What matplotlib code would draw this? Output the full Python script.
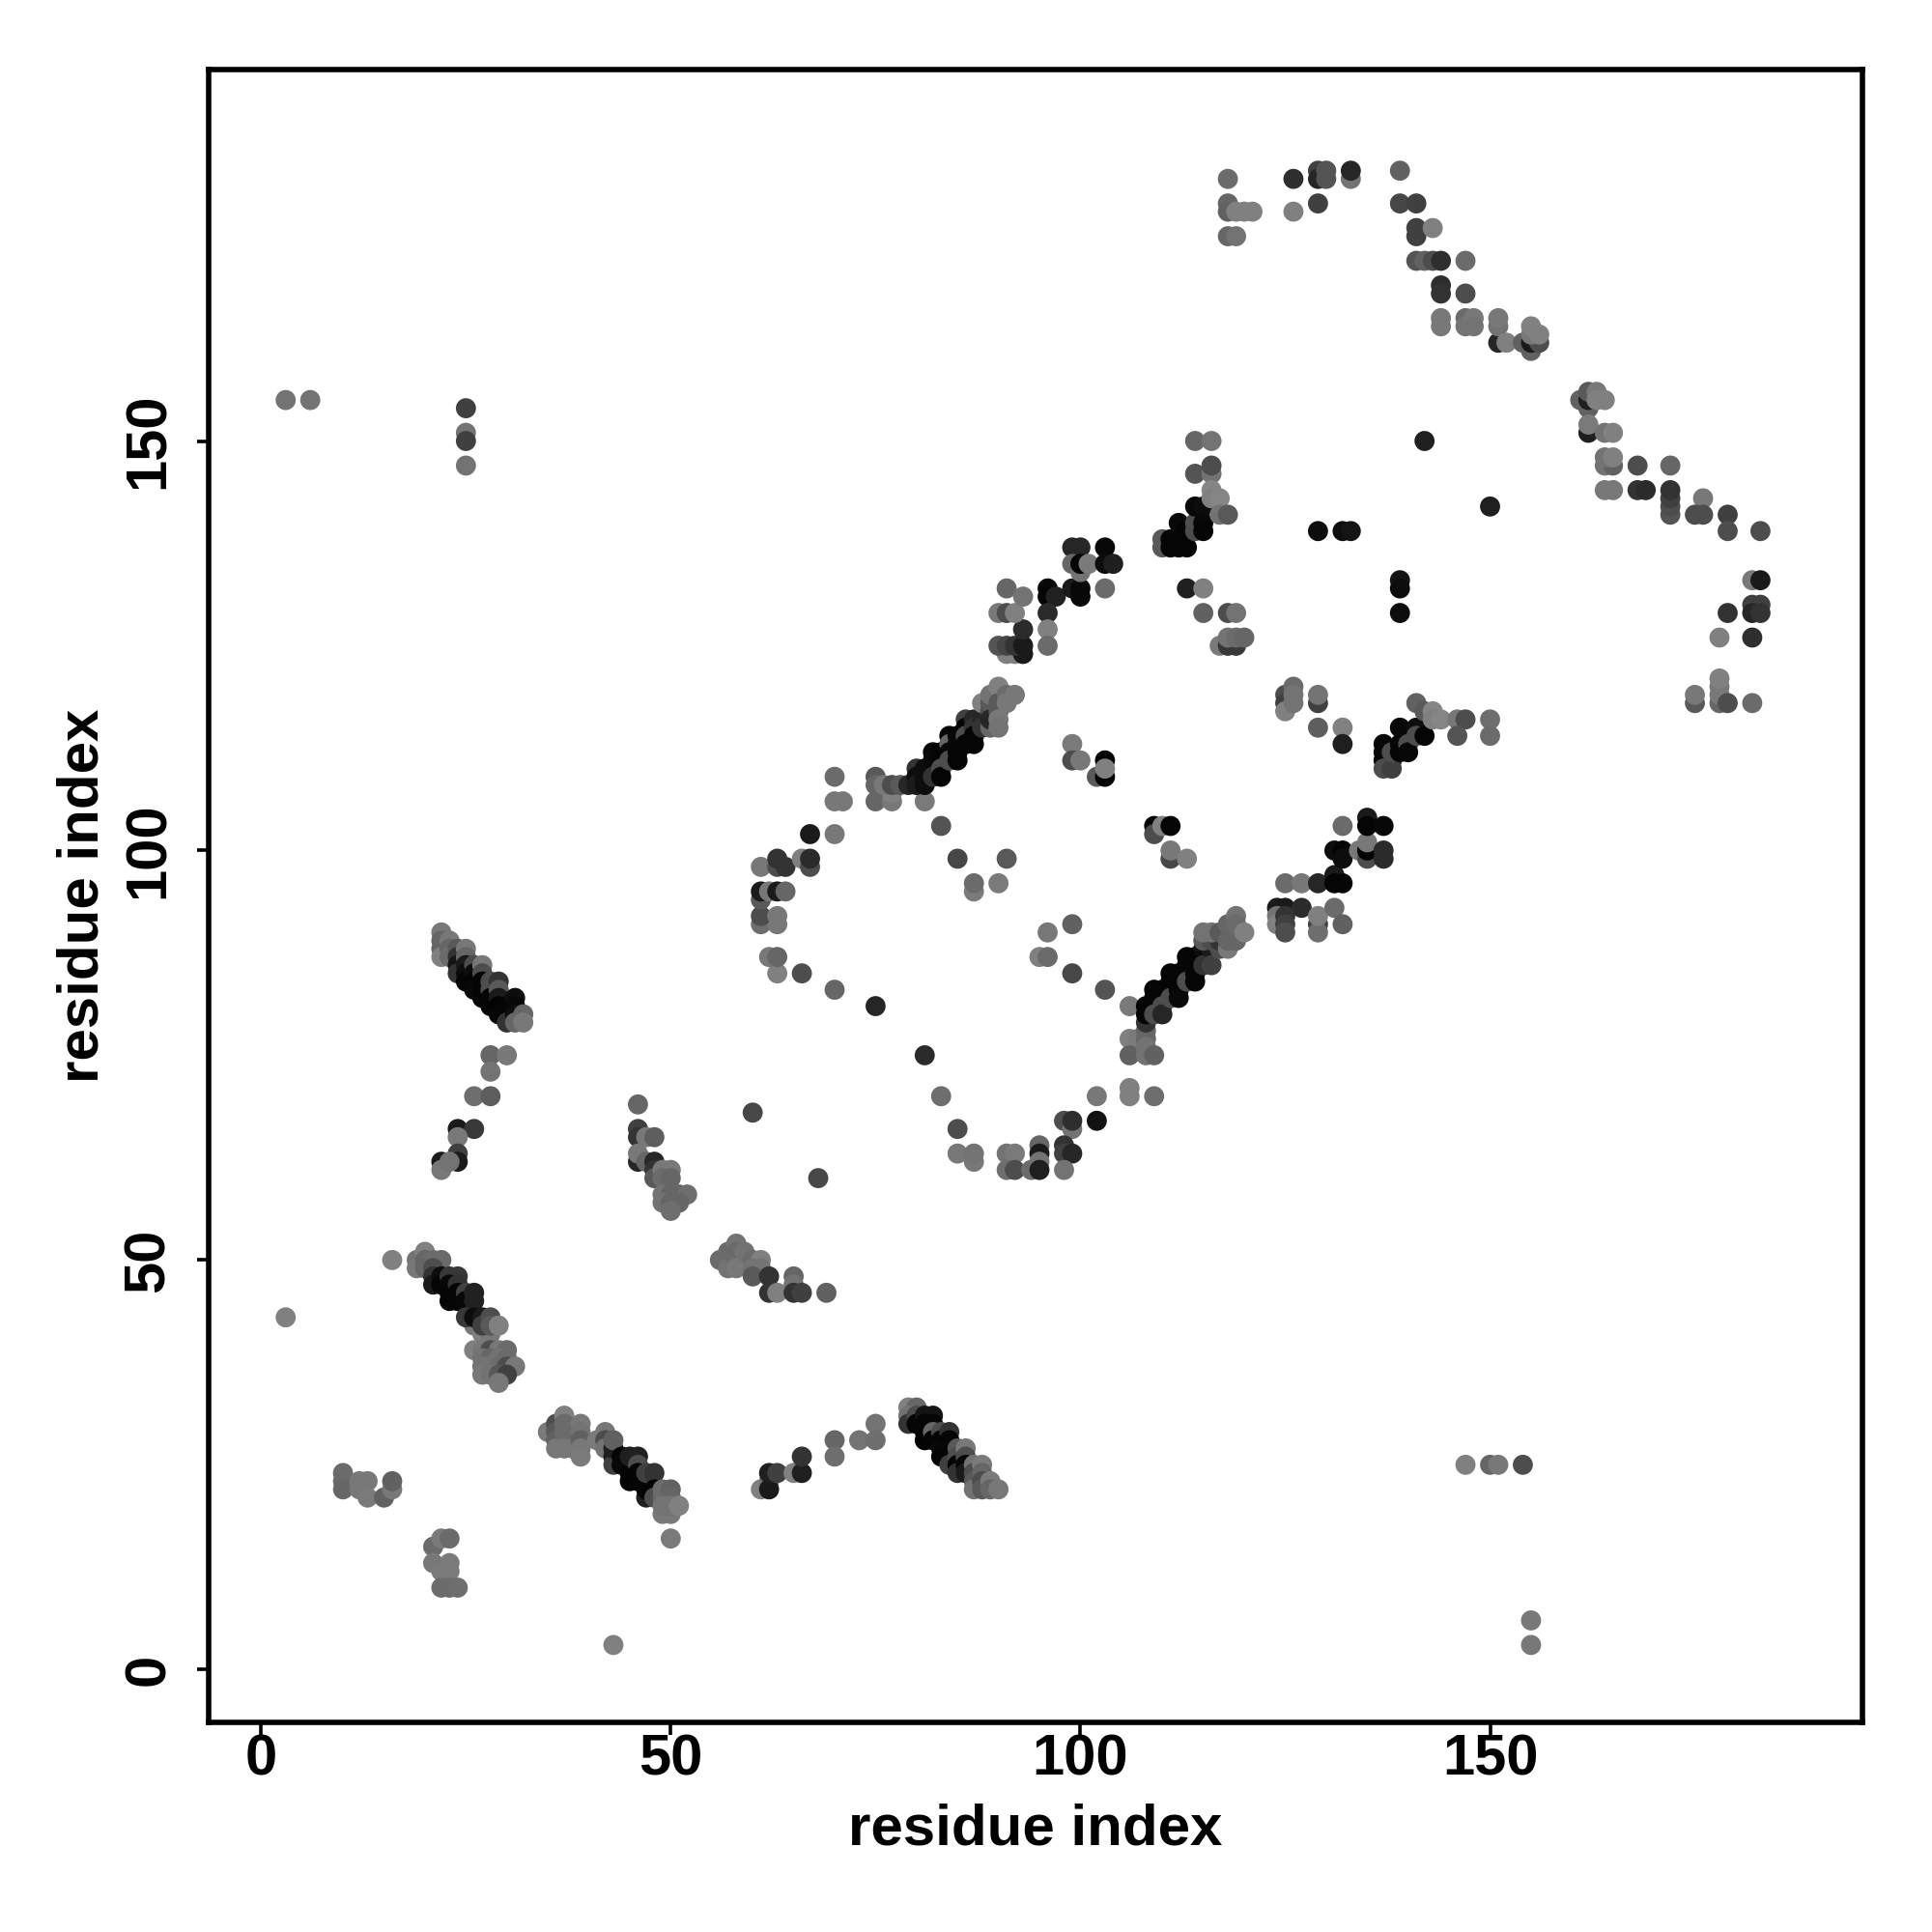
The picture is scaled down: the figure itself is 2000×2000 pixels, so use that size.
import matplotlib
matplotlib.use("Agg")
import matplotlib.pyplot as plt

# (residue x, residue y, grey level of the contact)
isolated = [
    (3, 155, .45), (6, 155, .45), (25, 154, .25), (25, 151, .45), (25, 150, .25), (25, 147, .45),
    (3, 43, .5), (43, 3, .5), (155, 6, .47), (155, 3, .47),
    (147, 25, .5), (150, 25, .4), (151, 25, .47), (154, 25, .3),
    (60, 68, .28), (68, 60, .28), (69, 46, .38),
    (142, 150, .12), (150, 142, .12),
    (129, 139, .05), (132, 139, .05), (133, 139, .08),
    (139, 133, .08), (139, 132, .05), (139, 129, .05),
]

low_left = [
    (10, 24, .42), (10, 23, .42), (10, 22, .4), (12, 23, .47), (13, 23, .47), (12, 22, .47),
    (13, 21, .48), (15, 21, .38), (16, 22, .47), (16, 23, .38),
    (21, 15, .42), (22, 16, .48), (23, 16, .42), (21, 13, .47), (23, 13, .48), (22, 12, .48),
    (23, 12, .48), (22, 10, .42), (23, 10, .42), (24, 10, .43),
]

strand_16_50 = [
    (16, 50, .5), (19, 50, .45), (19, 49, .47), (20, 51, .5), (20, 50, .4), (21, 50, .42), (22, 50, .42),
    (20, 49, .4), (21, 49, .3), (21, 48, .2), (21, 47, .1), (22, 48, .05), (22, 47, .02), (23, 48, .22),
    (24, 48, .22), (23, 47, .03), (23, 46, .02), (24, 47, .2), (24, 46, .02), (23, 45, .02),
    (24, 45, .02), (25, 46, .25), (25, 45, .03), (26, 46, .13), (26, 45, .13),
    (26, 42, .47), (27, 41, .5), (28, 41, .47), (25, 43, .22), (26, 43, .05), (27, 43, .1), (27, 42, .25),
    (28, 43, .3), (28, 42, .35), (29, 42, .5),
    (26, 39, .5), (27, 39, .47), (28, 39, .3), (29, 39, .47), (30, 39, .42), (27, 38, .45), (28, 38, .4),
    (29, 38, .45), (30, 38, .42), (27, 37, .45), (28, 37, .45), (29, 37, .42), (30, 37, .3), (31, 37, .47),
    (27, 36, .47), (28, 36, .45), (29, 36, .35), (30, 36, .25), (29, 35, .47),
]

strand_35_51 = [
    (35, 29, .48), (36, 30, .3), (36, 29, .35), (36, 28, .38), (36, 27, .47), (37, 31, .5), (37, 30, .42),
    (37, 29, .42), (37, 27, .47), (38, 29, .42), (38, 27, .47), (39, 30, .47), (39, 29, .45),
    (39, 28, .38), (39, 27, .47), (39, 26, .48), (41, 28, .48), (42, 29, .47), (42, 28, .3), (42, 27, .45),
    (43, 26, .1), (43, 25, .25), (43, 27, .12), (43, 28, .38), (44, 26, .02), (44, 25, .03), (45, 24, .02),
    (45, 23, .01), (45, 26, .12), (46, 26, .13), (46, 25, .3), (46, 24, .02), (46, 23, .02), (47, 23, .02),
    (47, 21, .12), (47, 22, .02), (47, 24, .25), (48, 24, .2), (48, 22, .02), (48, 21, .3),
    (49, 21, .4), (49, 22, .42), (49, 19, .47), (50, 22, .38), (50, 21, .4), (50, 19, .47), (49, 20, .45),
    (50, 20, .45), (51, 20, .5), (50, 16, .48),
]

strand_60_66 = [
    (56, 50, .42), (57, 51, .42), (57, 50, .42), (57, 49, .45), (58, 52, .45), (58, 51, .42), (58, 50, .42),
    (58, 49, .47), (59, 51, .45), (60, 50, .42), (61, 50, .5), (60, 49, .45), (61, 49, .45), (60, 48, .35),
    (62, 48, .2), (62, 46, .2), (63, 46, .5), (65, 48, .4), (65, 47, .45), (65, 46, .2), (66, 46, .25),
]

strand_62_75 = [
    (61, 22, .5), (62, 23, .45), (62, 22, .1), (62, 24, .12), (63, 24, .25), (65, 24, .5), (66, 24, .12),
    (66, 26, .2), (70, 28, .4), (70, 26, .43), (73, 28, .45), (75, 30, .45), (75, 28, .43),
]

strand_79_90 = [
    (79, 32, .5), (80, 32, .4), (79, 31, .45), (79, 30, .2), (80, 31, .3), (80, 30, .02), (81, 31, .08),
    (82, 31, .08), (81, 30, .02), (81, 29, .02), (81, 28, .01), (82, 30, .02), (82, 29, .4), (82, 28, .02),
    (83, 29, .3), (83, 28, .02), (83, 27, .03), (83, 26, .02), (84, 29, .2), (84, 28, .02), (84, 27, .02),
    (84, 26, .02), (84, 25, .25), (85, 27, .35), (85, 26, .3), (85, 25, .02), (85, 24, .2), (86, 27, .47),
    (86, 26, .3), (86, 25, .03), (86, 24, .1), (87, 25, .45), (87, 24, .3), (87, 23, .35), (87, 22, .45),
    (88, 25, .48), (88, 24, .4), (88, 23, .3), (88, 22, .35), (89, 23, .48), (89, 22, .4), (90, 22, .47),
]

strand_22_32 = [
    (22, 90, .47), (22, 89, .4), (22, 88, .4), (22, 87, .5), (23, 89, .47), (23, 88, .4), (23, 87, .42),
    (24, 88, .35), (24, 87, .2), (24, 86, .08), (24, 85, .2), (25, 88, .47), (25, 87, .4), (25, 86, .1),
    (25, 85, .05), (25, 84, .02), (26, 86, .3), (26, 85, .05), (26, 84, .02), (26, 83, .03), (27, 86, .47),
    (27, 85, .3), (27, 84, .02), (27, 83, .02), (27, 82, .02), (28, 84, .3), (28, 83, .3), (28, 82, .02),
    (28, 81, .02), (29, 84, .2), (29, 83, .35), (29, 82, .1), (29, 81, .01), (29, 80, .02), (30, 81, .02),
    (30, 80, .02), (30, 79, .2), (31, 82, .05), (31, 81, .03), (31, 80, .05), (31, 79, .4), (32, 80, .4),
    (32, 79, .47),
]

arm_22_30 = [
    (28, 75, .4), (30, 75, .47), (28, 73, .45), (26, 70, .43), (28, 70, .37),
    (24, 66, .1), (26, 66, .22), (24, 65, .47), (24, 63, .25), (24, 62, .1), (22, 62, .1),
    (22, 61, .47), (23, 62, .45),
]

strand_46_52 = [
    (46, 69, .4), (46, 66, .25), (46, 65, .2), (47, 65, .47), (48, 65, .37), (46, 62, .15), (46, 63, .47),
    (47, 62, .4), (48, 62, .15), (48, 61, .2), (48, 60, .35), (49, 61, .47), (50, 61, .47), (49, 60, .42),
    (50, 60, .4), (49, 58, .45), (50, 58, .4), (51, 58, .4), (52, 58, .43), (49, 57, .45), (50, 57, .4),
    (51, 57, .4), (50, 56, .43),
]

bottom_arc = [
    (75, 81, .15), (70, 83, .4), (66, 85, .3), (63, 85, .5), (62, 87, .47), (63, 87, .4),
    (61, 91, .43), (63, 91, .47), (61, 92, .3), (63, 92, .47), (61, 94, .35), (61, 95, .1), (62, 95, .47),
    (63, 95, .1), (64, 95, .4), (61, 98, .47), (63, 98, .3), (64, 98, .2), (63, 99, .2),
    (66, 99, .5), (67, 98, .3), (67, 99, .17), (67, 102, .1), (70, 102, .47),
    (81, 75, .17), (83, 70, .43), (85, 66, .3), (85, 63, .47), (87, 62, .47), (87, 63, .45),
    (91, 63, .45), (92, 63, .48), (91, 61, .43), (92, 61, .3), (94, 61, .42), (95, 64, .4), (95, 63, .1),
    (95, 62, .45), (95, 61, .12), (98, 67, .3), (99, 66, .45), (99, 67, .18), (98, 64, .2), (98, 63, .25),
    (99, 63, .15), (98, 61, .45), (102, 67, .07), (102, 70, .47), (106, 71, .5), (106, 70, .5), (109, 70, .43),
]

strand_70_92 = [
    (70, 109, .42), (70, 106, .47), (71, 106, .47), (75, 109, .35), (75, 108, .4), (75, 106, .4),
    (77, 106, .47), (77, 107, .5), (76, 108, .47), (77, 108, .3), (78, 108, .35), (81, 106, .48), (79, 108, .15),
    (80, 110, .2), (80, 109, .05), (80, 108, .1), (81, 110, .05), (81, 109, .05), (81, 108, .05), (82, 112, .03),
    (82, 111, .03), (82, 109, .2), (83, 112, .02), (83, 111, .02), (83, 110, .3), (83, 109, .02), (84, 114, .03),
    (84, 113, .4), (84, 112, .03), (84, 111, .3), (85, 114, .03), (85, 113, .03), (85, 112, .02), (85, 111, .02),
    (86, 116, .25), (86, 115, .02), (86, 114, .3), (86, 113, .02), (87, 116, .15), (87, 115, .2), (87, 114, .02),
    (87, 113, .02), (88, 116, .15), (88, 115, .2), (88, 118, .5), (89, 117, .3), (89, 118, .35), (89, 119, .45),
    (89, 115, .4), (89, 116, .15), (90, 120, .5), (90, 118, .35), (90, 117, .35), (90, 116, .47), (90, 115, .45),
    (91, 119, .42), (91, 118, .47), (92, 119, .47),
]

strand_90_104 = [
    (91, 124, .5), (92, 124, .5), (93, 124, .1), (90, 125, .33), (91, 125, .27), (92, 125, .2), (93, 125, .1),
    (93, 127, .17), (90, 129, .47), (91, 129, .3), (92, 129, .5), (91, 132, .4), (93, 131, .45),
    (96, 132, .03), (96, 131, .02), (97, 131, .13), (96, 129, .17), (96, 127, .5), (96, 125, .42),
    (99, 132, .1), (100, 132, .03), (100, 131, .03), (99, 137, .15), (100, 137, .15), (99, 135, .4),
    (100, 134, .45), (100, 135, .02), (101, 135, .48), (103, 137, .03), (103, 135, .05), (104, 135, .12),
    (103, 132, .42),
]

inner_scatter = [
    (99, 113, .48), (99, 111, .3), (100, 111, .47), (103, 111, .02), (102, 109, .35), (103, 109, .02),
    (103, 110, .5), (83, 103, .33), (85, 99, .28), (91, 99, .35), (87, 95, .48), (87, 96, .42), (90, 96, .48),
    (99, 91, .38), (96, 90, .47), (95, 87, .5), (96, 87, .42), (99, 85, .28), (103, 83, .33), (106, 81, .48),
    (109, 103, .02), (109, 102, .3), (110, 103, .5), (111, 103, .02), (111, 99, .28), (111, 100, .47), (113, 99, .5),
    (113, 132, .12), (115, 132, .5), (115, 129, .38), (118, 129, .3), (119, 129, .45),
    (117, 125, .48), (118, 125, .22), (119, 125, .22), (118, 126, .45), (119, 126, .42), (120, 126, .4),
]

strand_106_120 = [
    (106, 77, .5), (107, 77, .48), (108, 77, .4), (108, 78, .4), (106, 75, .38), (108, 76, .45), (108, 75, .45),
    (109, 75, .38), (108, 79, .2), (108, 81, .02), (108, 80, .02), (109, 83, .02), (109, 82, .02), (109, 81, .02),
    (109, 80, .3), (110, 83, .02), (110, 81, .3), (110, 80, .15), (111, 85, .02), (111, 84, .02), (111, 83, .02),
    (111, 82, .3), (112, 85, .02), (112, 83, .02), (112, 82, .03), (113, 87, .02), (113, 86, .02), (113, 85, .02),
    (113, 84, .3), (114, 87, .02), (114, 85, .02), (114, 84, .02), (115, 88, .05), (115, 86, .2), (116, 88, .1),
    (116, 86, .25), (115, 89, .35), (116, 89, .3), (117, 88, .3), (117, 89, .2), (115, 90, .45), (116, 90, .45),
    (117, 90, .35), (118, 88, .47), (118, 89, .4), (119, 89, .4), (118, 91, .4), (119, 92, .45), (119, 91, .42),
    (120, 90, .5),
]

strand_124_137 = [
    (124, 93, .1), (125, 93, .1), (127, 93, .17), (124, 92, .45), (124, 91, .5), (125, 92, .2), (125, 91, .25),
    (125, 90, .3), (129, 91, .25), (129, 90, .43), (129, 92, .5), (131, 93, .42), (132, 91, .38),
    (125, 96, .42), (127, 96, .47), (129, 96, .15), (131, 97, .1), (131, 96, .02), (132, 96, .02),
    (131, 100, .05), (132, 100, .02), (132, 99, .05), (132, 103, .42),
    (134, 100, .47), (135, 99, .3), (135, 100, .02), (135, 101, .47), (135, 104, .1), (135, 103, .02),
    (137, 103, .03), (137, 100, .17), (137, 99, .17),
]

strand_110_118 = [
    (110, 138, .35), (110, 137, .35), (111, 138, .02), (111, 137, .02), (112, 140, .03), (112, 137, .02),
    (113, 139, .02), (113, 137, .02), (114, 140, .3), (114, 139, .3), (114, 142, .03), (115, 142, .05), (115, 140, .03),
    (115, 139, .02), (114, 146, .33), (114, 150, .4), (116, 150, .45), (116, 146, .45), (116, 147, .3),
    (116, 144, .52), (116, 143, .5), (117, 143, .52), (117, 141, .45), (118, 141, .35),
]

strand_125_150 = [
    (125, 119, .3), (125, 118, .25), (125, 117, .5), (126, 120, .42), (126, 119, .45), (126, 118, .45),
    (129, 118, .25), (129, 119, .45), (129, 115, .37), (132, 115, .5), (132, 113, .12),
    (137, 113, .03), (137, 112, .03), (137, 111, .03), (138, 111, .03), (137, 110, .3), (138, 110, .25),
    (138, 112, .3), (139, 115, .03), (139, 113, .03), (139, 112, .02), (140, 114, .03), (140, 113, .3), (140, 112, .03),
    (141, 118, .38), (141, 115, .05), (141, 114, .3), (142, 117, .35), (142, 114, .02), (143, 117, .52), (143, 116, .5),
    (144, 116, .52), (146, 116, .47), (147, 116, .3), (146, 114, .33), (150, 116, .43), (150, 114, .42),
]

top_arc = [
    (118, 182, .42), (118, 179, .4), (118, 178, .38), (119, 178, .5), (120, 178, .5), (121, 178, .5),
    (118, 175, .4), (119, 175, .45), (126, 182, .18), (126, 178, .5),
    (129, 183, .25), (129, 182, .15), (130, 183, .33), (130, 182, .33), (133, 182, .45), (133, 183, .15),
    (129, 179, .25), (139, 183, .38), (139, 179, .28), (141, 179, .25), (141, 176, .25), (141, 175, .25),
    (143, 176, .5), (141, 172, .33), (142, 172, .38), (143, 172, .3), (144, 172, .18), (147, 172, .42),
    (144, 169, .18), (144, 168, .2), (147, 168, .3), (144, 165, .47), (144, 164, .47), (147, 165, .42),
    (147, 164, .45), (148, 165, .47), (148, 164, .45), (151, 162, .15), (151, 164, .45), (151, 165, .47),
    (152, 162, .5), (154, 162, .38), (155, 161, .38), (155, 162, .1), (156, 162, .3), (155, 163, .47),
    (155, 164, .5), (156, 163, .5),
]

right_arc = [
    (161, 155, .38), (162, 154, .38), (162, 155, .12), (162, 156, .35), (163, 156, .47), (163, 155, .5), (164, 155, .5),
    (162, 151, .12), (162, 152, .48), (164, 151, .45), (165, 151, .5), (164, 147, .45), (165, 147, .38),
    (164, 148, .45), (165, 148, .5), (164, 144, .47), (165, 144, .47), (168, 147, .3), (168, 144, .2),
    (169, 144, .17), (172, 147, .4), (172, 141, .33), (172, 142, .3), (172, 143, .25), (172, 144, .2),
    (176, 143, .47), (175, 141, .3), (176, 141, .3), (179, 141, .25), (179, 139, .3), (183, 139, .3),
    (182, 133, .47), (183, 133, .1), (182, 130, .25), (183, 130, .25), (182, 129, .15), (183, 129, .2),
    (179, 129, .2), (178, 126, .5), (182, 126, .18), (175, 118, .35), (175, 119, .47), (178, 118, .4),
    (178, 119, .47), (178, 120, .47), (178, 121, .5), (179, 118, .3), (182, 118, .42),
]

regions = [
    isolated, low_left, strand_16_50, strand_35_51, strand_60_66, strand_62_75, strand_79_90,
    strand_22_32, arm_22_30, strand_46_52, bottom_arc, strand_70_92, strand_90_104, inner_scatter,
    strand_106_120, strand_124_137, strand_110_118, strand_125_150, top_arc, right_arc,
]

ticks = [0, 50, 100, 150]

plt.rcParams["font.family"] = ["Liberation Sans", "DejaVu Sans"]
plt.rcParams["font.weight"] = "bold"

fig = plt.figure(figsize=(10, 10), dpi=200)
ax = fig.add_axes([216 / 2000, 217 / 2000, 1712 / 2000, 1711 / 2000])

for region in regions:
    xs = [p[0] for p in region]
    ys = [p[1] for p in region]
    cols = [str(p[2]) for p in region]
    ax.scatter(xs, ys, c=cols, s=56, linewidths=0, zorder=3)

ax.set_xlim(-6.4, 195.45)
ax.set_ylim(-6.45, 195.35)
ax.set_xticks(ticks)
ax.set_yticks(ticks)
ax.tick_params(length=4.5, width=1.3, labelsize=21.5)
ax.tick_params(axis="x", pad=-0.4)
ax.tick_params(axis="y", pad=7.7)
for lab in ax.get_yticklabels():
    lab.set_rotation(90)
    lab.set_va("center")
ax.set_xlabel("residue index", fontsize=21.6, fontweight="bold", labelpad=6.3)
ax.set_ylabel("residue index", fontsize=21.6, fontweight="bold", labelpad=4.8)
for s in ax.spines.values():
    s.set_linewidth(2)

plt.savefig("out.png", dpi=200)
